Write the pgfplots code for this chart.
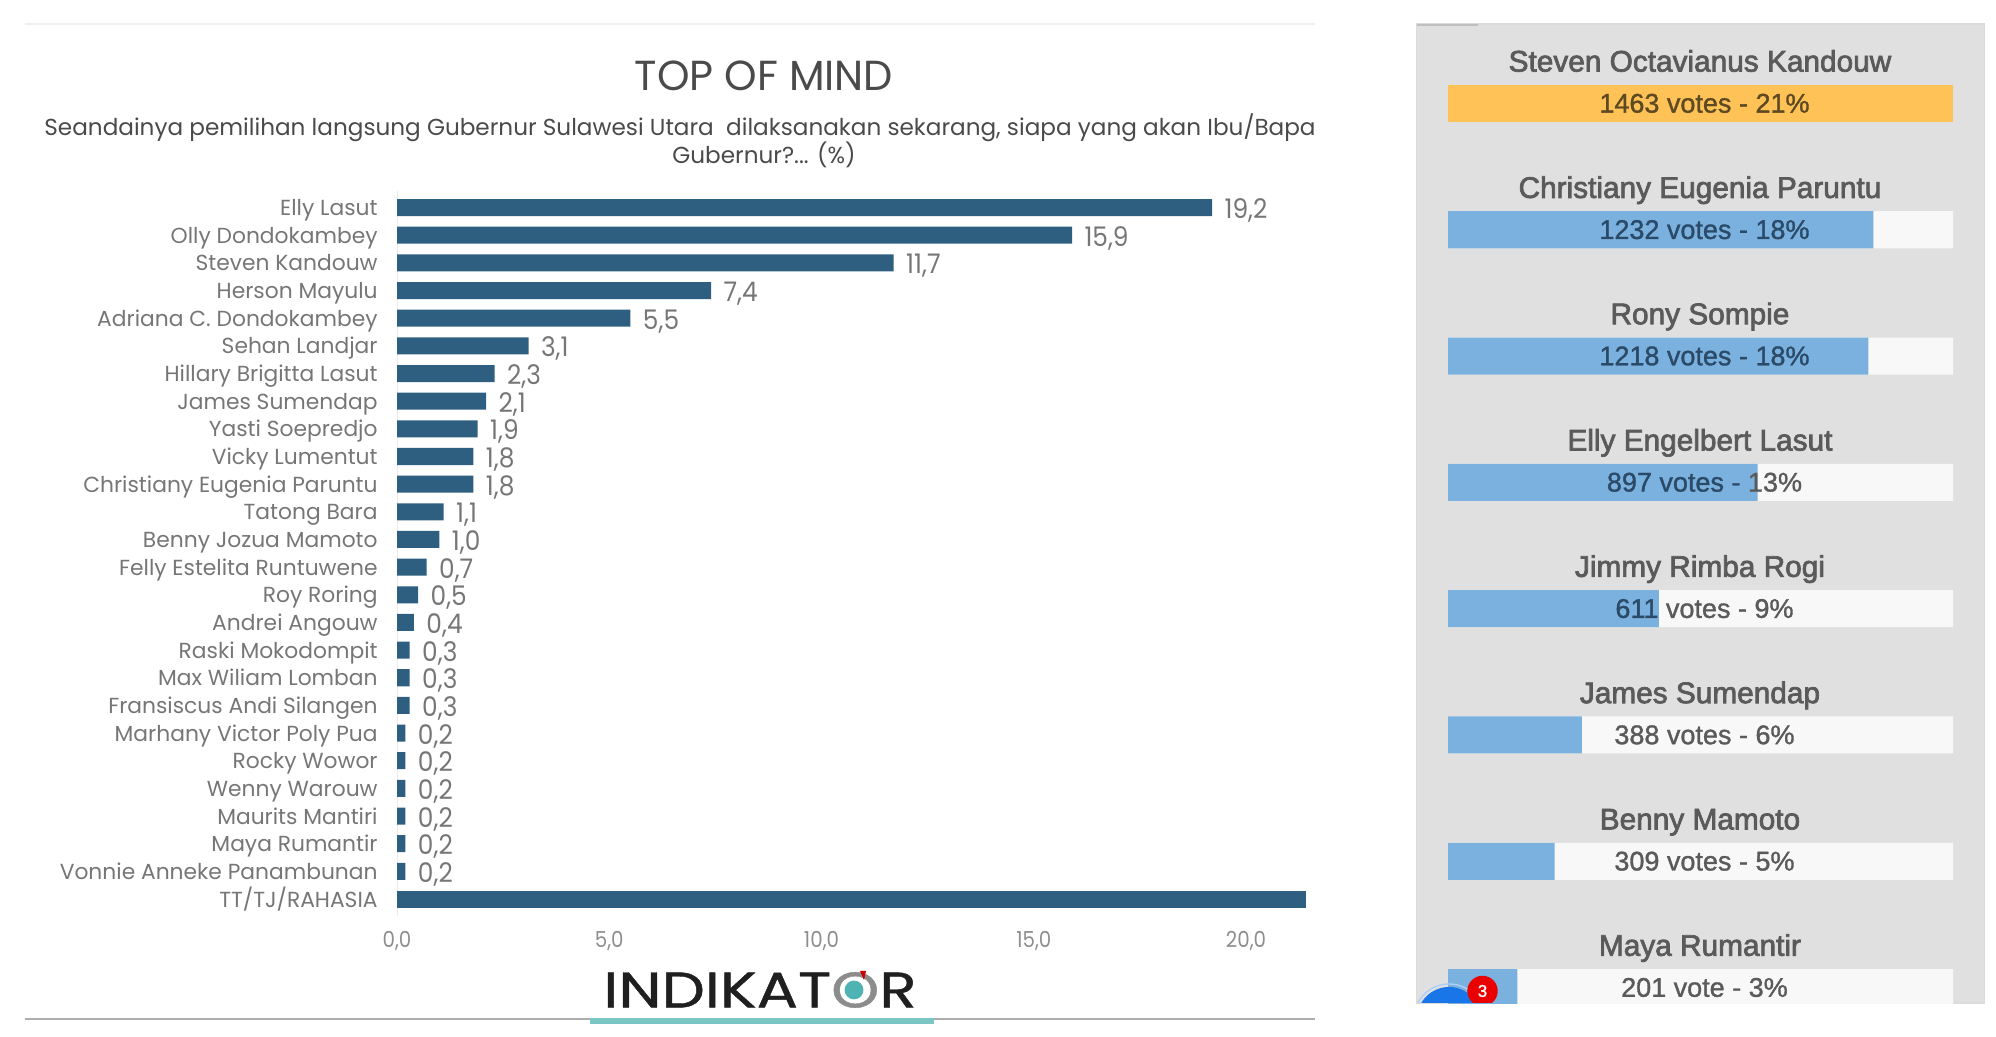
\documentclass[border=0pt]{standalone}
\usepackage{pgfplots}
\pgfplotsset{compat=1.18}
\usepackage{fontspec}
\setmainfont{Poppins}
\newfontfamily\logofont[FakeBold=0.8]{Poppins}
\newfontfamily\rb[FakeBold=2.4]{Liberation Sans}
\newfontfamily\rbn[FakeBold=1.2]{Liberation Sans}
\definecolor{barblue}{HTML}{2E5F80}
\definecolor{lbl}{HTML}{767676}
\definecolor{ticklbl}{HTML}{8E8E8E}
\definecolor{head}{HTML}{4A4A4A}
\definecolor{panel}{HTML}{E0E0E0}
\definecolor{track}{HTML}{F8F8F8}
\definecolor{vote}{HTML}{7AB1DE}
\definecolor{lead}{HTML}{FFC257}
\definecolor{nm}{HTML}{5A5A5A}
\definecolor{dk}{HTML}{2B4A68}
\definecolor{br}{HTML}{5E4A22}
\definecolor{teal}{HTML}{7CC6C6}
\definecolor{tealdot}{HTML}{4FB3B3}
\definecolor{fab}{HTML}{1976E8}
\newcommand{\pname}[2]{\node[text=nm,font=\rb\fontsize{14.9}{14.9}\selectfont,inner sep=0pt,anchor=base,yshift=-5.3pt] at (axis cs:730,#1-0.336) {#2};}
\newcommand{\pvote}[2]{\node[text=nm,font=\rbn\fontsize{13.5}{13.5}\selectfont,inner sep=0pt,anchor=base,yshift=-4.6pt] at (axis cs:743,#1) {#2};}
\begin{document}
\begin{tikzpicture}
\path[use as bounding box] (0pt,0pt) rectangle (998pt,518.5pt);
% frame rules
\draw[color=black!6,line width=0.7pt] (12.5pt,506.5pt) -- (657.5pt,506.5pt);
\draw[color=black!32,line width=1.1pt] (12.5pt,9pt) -- (657.5pt,9pt);
\fill[teal] (295pt,6.5pt) rectangle (467pt,9.5pt);
% titles
\node[text=head,font=\fontsize{21}{21}\selectfont,xscale=0.985,inner sep=0pt] at (382pt,480.5pt) {TOP OF MIND};
\node[text=head,font=\fontsize{11.57}{11.57}\selectfont,inner sep=0pt] at (340pt,454.5pt) {Seandainya pemilihan langsung Gubernur Sulawesi Utara\ \ dilaksanakan sekarang, siapa yang akan Ibu/Bapa};
\node[text=head,font=\fontsize{11.57}{11.57}\selectfont,inner sep=0pt] at (382pt,441.3pt) {Gubernur?... (\%)};
% logo
\node[text=black!88,font=\logofont\fontsize{25}{25}\selectfont,inner sep=0pt,xscale=1.226] at (380pt,23.5pt) {INDIKAT{\color{black!45}O}R};
\fill[tealdot] (427pt,23.5pt) circle (4.7pt);
\fill[red!80!black] (430pt,33pt) -- (433pt,33pt) -- (432pt,28.5pt) -- cycle;
\begin{axis}[
  at={(198.5pt,60.7pt)},anchor=south west,
  scale only axis,width=458.5pt,height=362.3pt,
  xmin=0,xmax=21.6,ymin=-0.6,ymax=25.6,y dir=reverse,
  axis lines=left,
  axis line style={-},
  x axis line style={draw=none},
  y axis line style={draw=black!8},
  major tick length=0pt,
  xtick={0,5,10,15,20},
  xticklabel style={text=ticklbl,font=\fontsize{11}{11}\selectfont,yshift=-4.5pt,xscale=0.9,
    /pgf/number format/.cd,fixed,fixed zerofill,precision=1,use comma,assume math mode=true},
  ytick={0,...,25},
  yticklabels={Elly Lasut,Olly Dondokambey,Steven Kandouw,Herson Mayulu,Adriana C. Dondokambey,Sehan Landjar,Hillary Brigitta Lasut,James Sumendap,Yasti Soepredjo,Vicky Lumentut,Christiany Eugenia Paruntu,Tatong Bara,Benny Jozua Mamoto,Felly Estelita Runtuwene,Roy Roring,Andrei Angouw,Raski Mokodompit,Max Wiliam Lomban,Fransiscus Andi Silangen,Marhany Victor Poly Pua,Rocky Wowor,Wenny Warouw,Maurits Mantiri,Maya Rumantir,Vonnie Anneke Panambunan,TT/TJ/RAHASIA},
  yticklabel style={text=lbl,font=\fontsize{10.9}{10.9}\selectfont,xshift=-9.5pt,yshift=-1.1pt,inner sep=0pt,text height=8pt,text depth=2.2pt},
  xbar,bar shift=0pt,bar width=0.615,
  clip=false,
]
\addplot[draw=none,fill=barblue,
  point meta=x,
  nodes near coords={\pgfmathprintnumber[fixed,fixed zerofill,precision=1,use comma,assume math mode=true]{\pgfplotspointmeta}},
  nodes near coords align={horizontal},
  every node near coord/.append style={text=lbl,font=\fontsize{13.5}{13.5}\selectfont,xshift=3pt,yshift=-1.5pt,xscale=0.92},
] coordinates {
(19.2,0)(15.9,1)(11.7,2)(7.4,3)(5.5,4)(3.1,5)(2.3,6)(2.1,7)(1.9,8)(1.8,9)(1.8,10)(1.1,11)(1.0,12)(0.7,13)(0.5,14)(0.4,15)(0.3,16)(0.3,17)(0.3,18)(0.2,19)(0.2,20)(0.2,21)(0.2,22)(0.2,23)(0.2,24)};
\addplot[draw=none,fill=barblue] coordinates {(21.4,25)};
\end{axis}
% right panel
\begin{axis}[
  at={(708.15pt,17pt)},anchor=south west,
  scale only axis,width=284.15pt,height=489.5pt,
  xmin=-91.8,xmax=1554.6,ymin=-0.629,ymax=7.122,y dir=reverse,
  axis background/.style={fill=panel},
  axis line style={draw=black!14,line width=0.6pt},
  ticks=none,
  xbar,bar shift=0pt,bar width=0.293,
]
\addplot[draw=none,fill=track] coordinates {(1463,1)(1463,2)(1463,3)(1463,4)(1463,5)(1463,6)(1463,7)};
\addplot[draw=none,fill=lead] coordinates {(1463,0)};
\addplot[draw=none,fill=vote] coordinates {(1232,1)(1218,2)(897,3)(611,4)(388,5)(309,6)(201,7)};
\pname{0}{Steven Octavianus Kandouw}
\pname{1}{Christiany Eugenia Paruntu}
\pname{2}{Rony Sompie}
\pname{3}{Elly Engelbert Lasut}
\pname{4}{Jimmy Rimba Rogi}
\pname{5}{James Sumendap}
\pname{6}{Benny Mamoto}
\pname{7}{Maya Rumantir}
\pvote{0}{\textcolor{br}{1463 votes - 21\%}}
\pvote{1}{\textcolor{dk}{1232 votes - 18\%}}
\pvote{2}{\textcolor{dk}{1218 votes - 18\%}}
\pvote{3}{\textcolor{dk}{897 votes - }13\%}
\pvote{4}{\textcolor{dk}{611} votes - 9\%}
\pvote{5}{388 votes - 6\%}
\pvote{6}{309 votes - 5\%}
\pvote{7}{201 vote - 3\%}
\end{axis}
\begin{scope}
\clip (708.15pt,17pt) rectangle (992.3pt,506.5pt);
\draw[color=black!25,line width=1pt] (708.5pt,506.2pt) -- (739pt,506.2pt);
\fill[fab] (724.5pt,9pt) circle (16pt);
\draw[color=fab!35!white,line width=0.7pt] (724.5pt,9pt) circle (17.5pt);
\fill[red!92!black] (741.25pt,23pt) circle (7.6pt);
\node[text=white,font=\rbn\fontsize{8.5}{8.5}\selectfont,inner sep=0pt] at (741.25pt,23pt) {3};
\end{scope}
\end{tikzpicture}
\end{document}
